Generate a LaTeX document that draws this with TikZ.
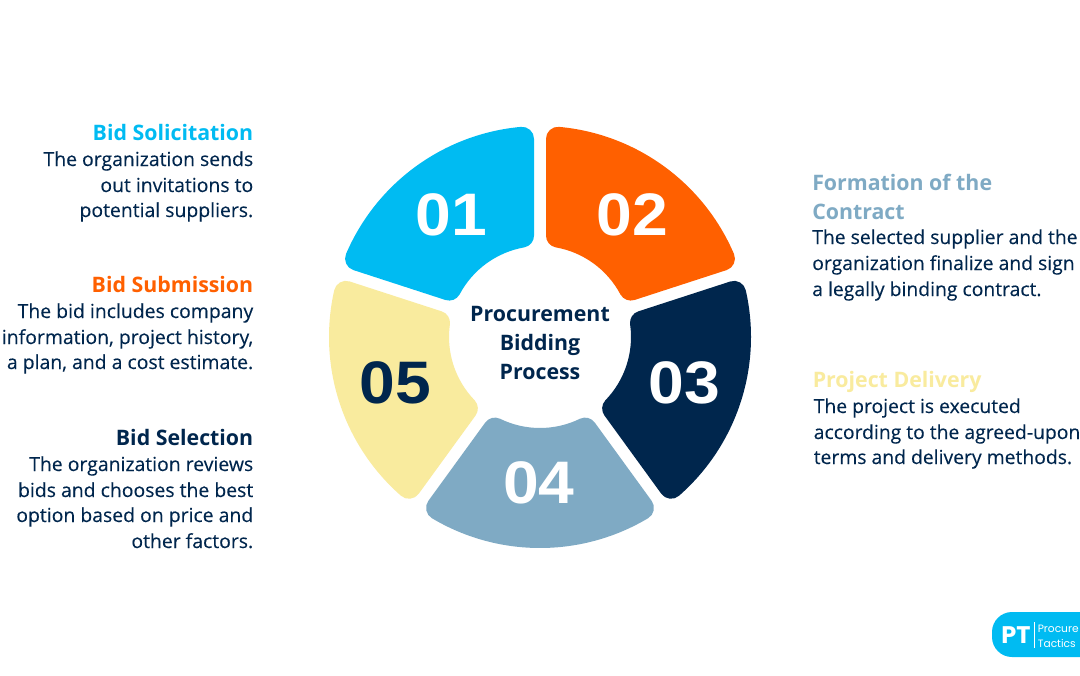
\documentclass[tikz,border=0pt]{standalone}
\usepackage{fontspec}
\setmainfont{Open Sans}
\newfontfamily\bodyfont[FakeBold=0.2]{Open Sans}
\newfontfamily\digitfont[FakeStretch=1.07]{Liberation Sans}
\newfontfamily\logofont{Poppins}
\definecolor{cyanc}{HTML}{00BBF2}
\definecolor{orangec}{HTML}{FF6000}
\definecolor{navyc}{HTML}{00264D}
\definecolor{bluec}{HTML}{7FAAC4}
\definecolor{yellowc}{HTML}{F9EB9E}
\newcommand\wedgeseg[3]{%
  \pgfmathsetmacro\oa{asin(18/199)}%
  \pgfmathsetmacro\ia{asin(18/103)}%
  \filldraw[segstyle,fill=#3,draw=#3]
    ({#1-\oa}:199) arc[start angle={#1-\oa},end angle={#2+\oa},radius=199]
    -- ({#2+\ia}:103) arc[start angle={#2+\ia},end angle={#1-\ia},radius=103] -- cycle;}
\tikzset{
  segstyle/.style={line width=18pt,line join=round},
  digitnum/.style={inner sep=0pt,font=\digitfont\bfseries\fontsize{45}{45}\selectfont},
  headl/.style={inner sep=0pt,anchor=base east,font=\bfseries\fontsize{16}{20}\selectfont},
  headr/.style={inner sep=0pt,anchor=base west,align=left,font=\bfseries\fontsize{16}{21.8}\selectfont},
  bodyl/.style={inner sep=0pt,anchor=base east,text=navyc,font=\bodyfont\fontsize{14.55}{19}\selectfont},
  bodyr/.style={inner sep=0pt,anchor=base west,text=navyc,font=\bodyfont\fontsize{14.5}{19}\selectfont},
  centertext/.style={inner sep=0pt,anchor=base,text=navyc,font=\bfseries\fontsize{16}{20}\selectfont},
  logotext/.style={inner sep=0pt,anchor=base west,text=white,font=\logofont\fontsize{8}{8}\selectfont},
}
\begin{document}
\begin{tikzpicture}[x=.75pt,y=-.75pt]
\useasboundingbox (0,0) rectangle (1080,675);
\clip (0,0) rectangle (1080,675);
\fill[white] (0,0) rectangle (1080,675);
\begin{scope}[shift={(540,337)},y=.75pt]
\wedgeseg{162}{90}{cyanc}
\wedgeseg{90}{18}{orangec}
\wedgeseg{18}{-54}{navyc}
\wedgeseg{-54}{-126}{bluec}
\wedgeseg{-126}{-198}{yellowc}
\end{scope}
\node[digitnum,text=white] (n1) at (451.5,215) {01};
\node[digitnum,text=white] (n2) at (632.5,215) {02};
\node[digitnum,text=white] (n3) at (684,383) {03};
\node[digitnum,text=white] (n4) at (539,483) {04};
\node[digitnum,text=navyc] (n5) at (395.5,383) {05};
\node[centertext] (c1) at (540,321) {Procurement};
\node[centertext] (c2) at (540,350) {Bidding};
\node[centertext] (c3) at (540,379) {Process};
% left column
\node[headl,text=cyanc] (h1) at (253.5,140) {Bid Solicitation};
\node[bodyl] (b1a) at (253.5,166) {The organization sends};
\node[bodyl] (b1b) at (253.5,192) {out invitations to};
\node[bodyl] (b1c) at (253.5,217) {potential suppliers.};
\node[headl,text=orangec] (h2) at (253.5,292) {Bid Submission};
\node[bodyl] (b2a) at (253.5,318) {The bid includes company};
\node[bodyl] (b2b) at (253.5,344) {information, project history,};
\node[bodyl] (b2c) at (253.5,369) {a plan, and a cost estimate.};
\node[headl,text=navyc] (h3) at (253.5,445) {Bid Selection};
\node[bodyl] (b3a) at (253.5,471) {The organization reviews};
\node[bodyl] (b3b) at (253.5,497) {bids and chooses the best};
\node[bodyl] (b3c) at (253.5,522) {option based on price and};
\node[bodyl] (b3d) at (253.5,548) {other factors.};
% right column
\node[headr,text=bluec] (h4a) at (812,190) {Formation of the};
\node[headr,text=bluec] (h4b) at (812,219) {Contract};
\node[bodyr] (b4a) at (812,244) {The selected supplier and the};
\node[bodyr] (b4b) at (812,270) {organization finalize and sign};
\node[bodyr] (b4c) at (812,296) {a legally binding contract.};
\node[headr,text=yellowc] (h5) at (812.5,387) {Project Delivery};
\node[bodyr] (b5a) at (813.5,413) {The project is executed};
\node[bodyr] (b5b) at (813.5,439) {according to the agreed-upon};
\node[bodyr] (b5c) at (813.5,464) {terms and delivery methods.};
% logo
\fill[cyanc,rounded corners=15pt] (992,612) rectangle (1110,657);
\node[inner sep=0pt,anchor=base,text=white,font=\logofont\bfseries\fontsize{18}{18}\selectfont] (pt) at (1016,643) {PT};
\coordinate (lt) at (1034,622);
\coordinate (lb) at (1034,648);
\draw[white,line width=.4pt] (lt) -- (lb);
\node[logotext] (lg1) at (1037.5,632) {Procure};
\node[logotext] (lg2) at (1037.5,647) {Tactics};
\end{tikzpicture}
\end{document}
